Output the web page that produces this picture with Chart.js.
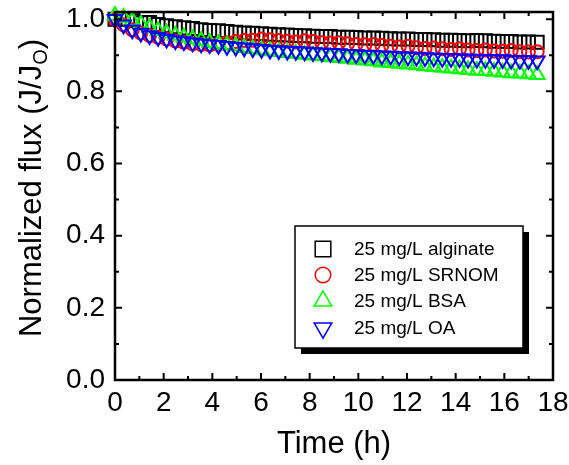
<!DOCTYPE html>
<html>
<head>
<meta charset="utf-8">
<script src="https://cdn.jsdelivr.net/npm/chart.js@4/dist/chart.umd.min.js"></script>
<style>
  html, body { margin: 0; padding: 0; background: #fff; }
  canvas { display: block; }
</style>
</head>
<body>
<canvas id="c" width="569" height="465"></canvas>
<script>
// ---- data ----
const timeH = [0, 0.35, 0.71, 1.06, 1.42, 1.77, 2.12, 2.48, 2.83, 3.19, 3.54, 3.89, 4.25, 4.60, 4.96, 5.31, 5.66, 6.02, 6.37, 6.73, 7.08, 7.43, 7.79, 8.14, 8.50, 8.85, 9.20, 9.56, 9.91, 10.27, 10.62, 10.97, 11.33, 11.68, 12.04, 12.39, 12.74, 13.10, 13.45, 13.81, 14.16, 14.51, 14.87, 15.22, 15.58, 15.93, 16.28, 16.64, 16.99, 17.35];

const alginate = [1.00, 1.00, 0.996, 0.99, 0.991, 0.985, 0.982, 0.979, 0.976, 0.974, 0.971, 0.969, 0.968, 0.966, 0.964, 0.962, 0.961, 0.960, 0.958, 0.957, 0.956, 0.955, 0.954, 0.953, 0.952, 0.952, 0.950, 0.950, 0.949, 0.948, 0.948, 0.947, 0.946, 0.945, 0.945, 0.944, 0.944, 0.943, 0.942, 0.942, 0.941, 0.940, 0.941, 0.940, 0.939, 0.938, 0.938, 0.937, 0.937, 0.936];

const srnom = [1.00, 0.985, 0.971, 0.962, 0.955, 0.950, 0.945, 0.940, 0.936, 0.932, 0.930, 0.929, 0.931, 0.935, 0.938, 0.941, 0.942, 0.945, 0.943, 0.941, 0.939, 0.937, 0.940, 0.938, 0.935, 0.934, 0.935, 0.932, 0.930, 0.929, 0.930, 0.927, 0.925, 0.923, 0.925, 0.921, 0.919, 0.920, 0.918, 0.916, 0.918, 0.915, 0.913, 0.915, 0.912, 0.911, 0.913, 0.910, 0.909, 0.910];

const bsa = [1.01, 1.005, 0.996, 0.986, 0.976, 0.968, 0.961, 0.955, 0.950, 0.945, 0.940, 0.935, 0.932, 0.928, 0.925, 0.921, 0.918, 0.915, 0.912, 0.910, 0.907, 0.905, 0.902, 0.900, 0.898, 0.895, 0.893, 0.891, 0.888, 0.886, 0.884, 0.881, 0.879, 0.877, 0.875, 0.873, 0.870, 0.868, 0.866, 0.864, 0.862, 0.860, 0.858, 0.857, 0.855, 0.853, 0.851, 0.850, 0.848, 0.846];

const oa = [1.00, 0.985, 0.971, 0.962, 0.955, 0.950, 0.945, 0.941, 0.938, 0.935, 0.932, 0.930, 0.928, 0.925, 0.923, 0.921, 0.919, 0.917, 0.915, 0.913, 0.912, 0.911, 0.910, 0.908, 0.907, 0.906, 0.905, 0.903, 0.902, 0.901, 0.900, 0.899, 0.898, 0.897, 0.896, 0.895, 0.894, 0.893, 0.892, 0.892, 0.891, 0.890, 0.890, 0.889, 0.888, 0.888, 0.887, 0.886, 0.886, 0.885];

const seriesLabels = ["25 mg/L alginate", "25 mg/L SRNOM", "25 mg/L BSA", "25 mg/L OA"];
const xTickValues = [0, 2, 4, 6, 8, 10, 12, 14, 16, 18];
const yTickValues = [0.0, 0.2, 0.4, 0.6, 0.8, 1.0];
const xMinorValues = [1, 3, 5, 7, 9, 11, 13, 15, 17];
const yMinorValues = [0.1, 0.3, 0.5, 0.7, 0.9];

// ---- styles ----
const FONT = "'Liberation Sans', Arial, Helvetica, sans-serif";
const styles = [
  { color: '#000000', pointStyle: 'rect', radius: 9.2, rotation: 0, order: 4 },
  { color: '#ff0000', pointStyle: 'circle', radius: 6.5, rotation: 0, order: 3 },
  { color: '#00ff00', pointStyle: 'triangle', radius: 8.5, rotation: 0, order: 2 },
  { color: '#0000ff', pointStyle: 'triangle', radius: 8.5, rotation: 180, order: 1 }
];
const seriesValues = [alginate, srnom, bsa, oa];

const datasets = seriesValues.map((vals, i) => ({
  label: seriesLabels[i],
  data: vals.map((v, j) => ({ x: timeH[j], y: v })),
  showLine: false,
  pointStyle: styles[i].pointStyle,
  pointRadius: styles[i].radius,
  pointRotation: styles[i].rotation,
  pointBorderWidth: 2,
  pointBorderColor: styles[i].color,
  pointBackgroundColor: 'rgba(0,0,0,0)',
  borderColor: styles[i].color,
  backgroundColor: 'rgba(0,0,0,0)',
  order: styles[i].order,
  clip: false
}));

const framePlugin = {
  id: 'frame',
  afterDatasetsDraw(chart) {
    const { ctx, chartArea: a, scales: { x, y } } = chart;
    ctx.save();
    ctx.strokeStyle = '#000';
    ctx.lineWidth = 2;
    ctx.beginPath();
    const major = 7, minor = 4;
    xTickValues.forEach(v => {
      const px = x.getPixelForValue(v);
      ctx.moveTo(px, a.bottom); ctx.lineTo(px, a.bottom - major);
      ctx.moveTo(px, a.top); ctx.lineTo(px, a.top + major);
    });
    xMinorValues.forEach(v => {
      const px = x.getPixelForValue(v);
      ctx.moveTo(px, a.bottom); ctx.lineTo(px, a.bottom - minor);
      ctx.moveTo(px, a.top); ctx.lineTo(px, a.top + minor);
    });
    yTickValues.forEach(v => {
      const py = y.getPixelForValue(v);
      ctx.moveTo(a.left, py); ctx.lineTo(a.left + major, py);
      ctx.moveTo(a.right, py); ctx.lineTo(a.right - major, py);
    });
    yMinorValues.forEach(v => {
      const py = y.getPixelForValue(v);
      ctx.moveTo(a.left, py); ctx.lineTo(a.left + minor, py);
      ctx.moveTo(a.right, py); ctx.lineTo(a.right - minor, py);
    });
    ctx.stroke();
    ctx.lineWidth = 2.5;
    ctx.strokeRect(a.left, a.top, a.right - a.left, a.bottom - a.top);
    ctx.restore();
  },
  afterDraw(chart) {
    const { ctx, chartArea: a } = chart;
    ctx.save();
    // axis titles
    ctx.fillStyle = '#000';
    ctx.font = '31px ' + FONT;
    ctx.textAlign = 'center';
    ctx.textBaseline = 'middle';
    ctx.fillText('Time (h)', (a.left + a.right) / 2, 444);

    ctx.translate(30, 188);
    ctx.rotate(-Math.PI / 2);
    const main = 'Normalized flux (J/J';
    const sub = 'O';
    const tail = ')';
    ctx.font = '31px ' + FONT;
    const wMain = ctx.measureText(main).width;
    const wTail = ctx.measureText(tail).width;
    ctx.font = '20px ' + FONT;
    const wSub = ctx.measureText(sub).width;
    const total = wMain + wSub + wTail;
    let sx = -total / 2;
    ctx.textAlign = 'left';
    ctx.textBaseline = 'alphabetic';
    ctx.font = '31px ' + FONT;
    ctx.fillText(main, sx, 11);
    sx += wMain;
    ctx.font = '20px ' + FONT;
    ctx.fillText(sub, sx, 17);
    sx += wSub;
    ctx.font = '31px ' + FONT;
    ctx.fillText(tail, sx, 11);
    ctx.restore();

    // legend
    ctx.save();
    const bx = 295, by = 226, bw = 228, bh = 122, sh = 6;
    ctx.fillStyle = '#000';
    ctx.fillRect(bx + sh, by + sh, bw, bh);
    ctx.fillStyle = '#fff';
    ctx.fillRect(bx, by, bw, bh);
    ctx.strokeStyle = '#000';
    ctx.lineWidth = 1.5;
    ctx.strokeRect(bx, by, bw, bh);
    const rows = [249, 275, 301, 328];
    chart.data.datasets.forEach((ds, i) => {
      ctx.strokeStyle = styles[i].color;
      ctx.fillStyle = 'rgba(0,0,0,0)';
      Chart.helpers.drawPoint(ctx, {
        pointStyle: styles[i].pointStyle,
        radius: styles[i].radius * 1.2,
        rotation: styles[i].rotation,
        borderWidth: 2.5
      }, 323, rows[i]);
      ctx.fillStyle = '#000';
      ctx.font = '19px ' + FONT;
      ctx.textAlign = 'left';
      ctx.textBaseline = 'middle';
      ctx.fillText(ds.label, 354, rows[i] + 1);
    });
    ctx.restore();
  }
};

Chart.defaults.color = '#000';
new Chart(document.getElementById('c'), {
  type: 'scatter',
  data: { datasets },
  options: {
    responsive: false,
    animation: false,
    events: [],
    layout: { padding: { top: 12, right: 16, left: 0, bottom: 0 } },
    plugins: { legend: { display: false }, tooltip: { enabled: false } },
    scales: {
      x: {
        type: 'linear', min: 0, max: 18,
        grid: { display: false, drawTicks: false },
        border: { display: false },
        ticks: { font: { family: FONT, size: 28 }, padding: 6, maxRotation: 0, autoSkip: false },
        afterBuildTicks: s => { s.ticks = xTickValues.map(v => ({ value: v })); },
        afterFit: s => { s.height = 85; s.paddingLeft = 0; s.paddingRight = 0; }
      },
      y: {
        type: 'linear', min: 0, max: 1.02,
        grid: { display: false, drawTicks: false },
        border: { display: false },
        ticks: { font: { family: FONT, size: 28 }, padding: 10, callback: v => Number(v).toFixed(1) },
        afterBuildTicks: s => { s.ticks = yTickValues.map(v => ({ value: v })); },
        afterFit: s => { s.width = 115; s.paddingTop = 0; s.paddingBottom = 0; }
      }
    }
  },
  plugins: [framePlugin]
});
</script>
</body>
</html>
